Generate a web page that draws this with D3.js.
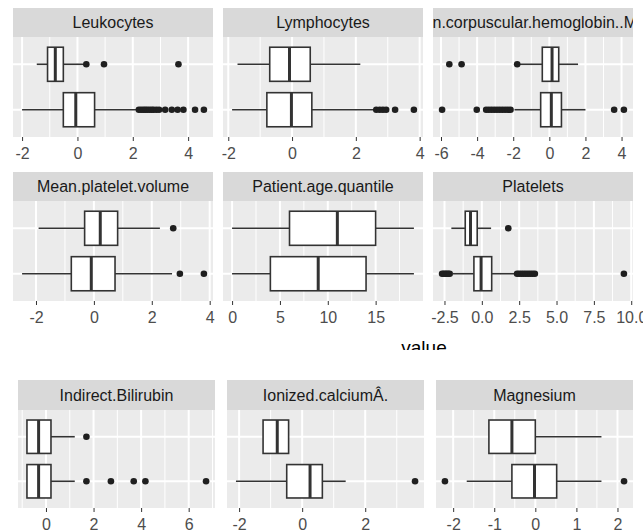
<!DOCTYPE html>
<html>
<head>
<meta charset="utf-8">
<script src="https://cdn.jsdelivr.net/npm/d3@7"></script>
<style>
  html, body { margin: 0; padding: 0; background: #ffffff; }
  svg { display: block; font-family: "Liberation Sans", Arial, sans-serif; }
</style>
</head>
<body>
<svg id="chart" width="643" height="532"></svg>
<script>
// Two groups per facet, drawn top to bottom
const groups = ["groupA", "groupB"];

// Box statistics: [lower whisker, Q1, median, Q3, upper whisker]
const leukocytesA = [-1.47, -1.08, -0.80, -0.51, 0.20];
const leukocytesAOut = [0.32, 0.96, 3.65];
const leukocytesB = [-2.00, -0.51, -0.06, 0.62, 2.15];
const leukocytesBOut = [2.22, 2.30, 2.38, 2.45, 2.52, 2.60, 2.68, 2.75, 2.85, 2.95, 3.17, 3.41, 3.62, 3.83, 4.25, 4.57];

const lymphocytesA = [-1.71, -0.70, -0.08, 0.57, 2.14];
const lymphocytesAOut = [];
const lymphocytesB = [-1.88, -0.79, -0.02, 0.62, 2.59];
const lymphocytesBOut = [2.64, 2.75, 2.85, 2.95, 3.23, 3.82];

const mchA = [-1.65, -0.39, 0.15, 0.52, 1.59];
const mchAOut = [-5.54, -4.86, -1.78];
const mchB = [-1.93, -0.48, 0.11, 0.67, 2.00];
const mchBOut = [-5.94, -4.02, -3.50, -3.35, -3.20, -3.05, -2.90, -2.75, -2.60, -2.45, -2.30, -2.15, 3.59, 4.13];

const mpvA = [-1.91, -0.32, 0.22, 0.82, 2.28];
const mpvAOut = [2.74];
const mpvB = [-2.48, -0.78, -0.09, 0.73, 2.70];
const mpvBOut = [2.97, 3.80];

const ageA = [0, 6, 11, 15, 19];
const ageAOut = [];
const ageB = [0, 4, 9, 14, 19];
const ageBOut = [];

const plateletsA = [-2.04, -1.11, -0.76, -0.31, 0.62];
const plateletsAOut = [1.77];
const plateletsB = [-1.93, -0.53, -0.05, 0.66, 2.30];
const plateletsBOut = [-2.66, -2.55, -2.45, -2.35, -2.25, -2.15, 2.36, 2.50, 2.65, 2.80, 2.95, 3.10, 3.25, 3.40, 3.55, 9.51];

const bilirubinA = [-0.80, -0.80, -0.31, 0.21, 1.21];
const bilirubinAOut = [1.70];
const bilirubinB = [-0.80, -0.80, -0.31, 0.21, 1.21];
const bilirubinBOut = [1.70, 2.73, 3.69, 4.18, 6.73];

const calciumA = [-1.24, -1.24, -0.79, -0.43, -0.43];
const calciumAOut = [];
const calciumB = [-2.10, -0.49, 0.25, 0.64, 1.38];
const calciumBOut = [3.58];

const magnesiumA = [-1.13, -1.13, -0.57, 0.00, 1.61];
const magnesiumAOut = [];
const magnesiumB = [-1.67, -0.57, -0.02, 0.52, 1.61];
const magnesiumBOut = [-2.20, 2.16];

// Facet titles and tick values
const topTitles = ["Leukocytes", "Lymphocytes", "Mean.corpuscular.hemoglobin..MCH.",
                   "Mean.platelet.volume", "Patient.age.quantile", "Platelets"];
const bottomTitles = ["Indirect.Bilirubin", "Ionized.calciumÂ.", "Magnesium"];

const leukocytesTicks = [-2, 0, 2, 4];
const lymphocytesTicks = [-2, 0, 2, 4];
const mchTicks = [-6, -4, -2, 0, 2, 4];
const mpvTicks = [-2, 0, 2, 4];
const ageTicks = [0, 5, 10, 15];
const plateletsTicks = [-2.5, 0.0, 2.5, 5.0, 7.5, 10.0];
const plateletsTickLabels = ["-2.5", "0.0", "2.5", "5.0", "7.5", "10.0"];
const bilirubinTicks = [0, 2, 4, 6];
const calciumTicks = [-2, 0, 2];
const magnesiumTicks = [-2, -1, 0, 1, 2];

const xTitle = "value";

// Assemble facet descriptions from the arrays above
const topFacets = [
  { title: topTitles[0], stats: [leukocytesA, leukocytesB], out: [leukocytesAOut, leukocytesBOut], ticks: leukocytesTicks },
  { title: topTitles[1], stats: [lymphocytesA, lymphocytesB], out: [lymphocytesAOut, lymphocytesBOut], ticks: lymphocytesTicks },
  { title: topTitles[2], stats: [mchA, mchB], out: [mchAOut, mchBOut], ticks: mchTicks },
  { title: topTitles[3], stats: [mpvA, mpvB], out: [mpvAOut, mpvBOut], ticks: mpvTicks },
  { title: topTitles[4], stats: [ageA, ageB], out: [ageAOut, ageBOut], ticks: ageTicks },
  { title: topTitles[5], stats: [plateletsA, plateletsB], out: [plateletsAOut, plateletsBOut], ticks: plateletsTicks, labels: plateletsTickLabels }
];
const bottomFacets = [
  { title: bottomTitles[0], stats: [bilirubinA, bilirubinB], out: [bilirubinAOut, bilirubinBOut], ticks: bilirubinTicks },
  { title: bottomTitles[1], stats: [calciumA, calciumB], out: [calciumAOut, calciumBOut], ticks: calciumTicks },
  { title: bottomTitles[2], stats: [magnesiumA, magnesiumB], out: [magnesiumAOut, magnesiumBOut], ticks: magnesiumTicks }
];

// Styling
const panelBg = "#EBEBEB";
const stripBg = "#D9D9D9";
const stripText = "#1A1A1A";
const tickText = "#4D4D4D";
const boxLine = "#333333";
const pointFill = "#1F1F1F";
const fontSize = 16;

const svg = d3.select("#chart");
const defs = svg.append("defs");
let clipId = 0;

function drawFacet(root, f, left, width, stripTop, stripH, panelH) {
  const panelTop = stripTop + stripH;
  const panelBottom = panelTop + panelH;

  // Data range with 5% expansion on each side
  const all = f.stats.flat().concat(f.out.flat());
  const lo = d3.min(all), hi = d3.max(all);
  const pad = (hi - lo) * 0.05;
  const x = d3.scaleLinear().domain([lo - pad, hi + pad]).range([left, left + width]);
  const y = d3.scalePoint().domain(groups).range([panelTop, panelBottom]).padding(0.6);
  const boxH = y.step() * 0.75;

  const g = root.append("g");

  // Strip (long titles are clipped to the strip)
  const cid = "clip" + (clipId++);
  defs.append("clipPath").attr("id", cid)
    .append("rect").attr("x", left).attr("y", stripTop).attr("width", width).attr("height", stripH);
  g.append("rect").attr("x", left).attr("y", stripTop).attr("width", width).attr("height", stripH)
    .attr("fill", stripBg);
  g.append("text").attr("clip-path", `url(#${cid})`)
    .attr("x", left + width / 2).attr("y", stripTop + stripH * 0.5 + fontSize * 0.36)
    .attr("text-anchor", "middle").attr("font-size", fontSize).attr("fill", stripText)
    .text(f.title);

  // Panel background
  g.append("rect").attr("x", left).attr("y", panelTop).attr("width", width).attr("height", panelH)
    .attr("fill", panelBg);

  // Minor grid (midpoints between major ticks, extended one step past each end)
  const step = f.ticks[1] - f.ticks[0];
  const minor = [];
  for (let i = -1; i < f.ticks.length; i++) {
    const v = f.ticks[0] + step * (i + 0.5);
    if (v > x.domain()[0] && v < x.domain()[1]) minor.push(v);
  }
  g.selectAll(".minor").data(minor).join("line")
    .attr("x1", d => x(d)).attr("x2", d => x(d))
    .attr("y1", panelTop).attr("y2", panelBottom)
    .attr("stroke", "#ffffff").attr("stroke-width", 1);

  // Major grid
  const majors = f.ticks.filter(v => v >= x.domain()[0] && v <= x.domain()[1]);
  g.selectAll(".major").data(majors).join("line")
    .attr("x1", d => x(d)).attr("x2", d => x(d))
    .attr("y1", panelTop).attr("y2", panelBottom)
    .attr("stroke", "#ffffff").attr("stroke-width", 2);
  g.selectAll(".hmajor").data(groups).join("line")
    .attr("x1", left).attr("x2", left + width)
    .attr("y1", d => y(d)).attr("y2", d => y(d))
    .attr("stroke", "#ffffff").attr("stroke-width", 2);

  // Boxes, whiskers, medians and outliers
  groups.forEach((grp, i) => {
    const s = f.stats[i];
    const cy = y(grp);
    const bg = g.append("g");
    bg.append("line").attr("x1", x(s[0])).attr("x2", x(s[1])).attr("y1", cy).attr("y2", cy)
      .attr("stroke", boxLine).attr("stroke-width", 1.6);
    bg.append("line").attr("x1", x(s[3])).attr("x2", x(s[4])).attr("y1", cy).attr("y2", cy)
      .attr("stroke", boxLine).attr("stroke-width", 1.6);
    bg.append("rect").attr("x", x(s[1])).attr("y", cy - boxH / 2)
      .attr("width", x(s[3]) - x(s[1])).attr("height", boxH)
      .attr("fill", "#ffffff").attr("stroke", boxLine).attr("stroke-width", 1.6);
    bg.append("line").attr("x1", x(s[2])).attr("x2", x(s[2]))
      .attr("y1", cy - boxH / 2).attr("y2", cy + boxH / 2)
      .attr("stroke", boxLine).attr("stroke-width", 3);
    bg.selectAll("circle").data(f.out[i]).join("circle")
      .attr("cx", d => x(d)).attr("cy", cy).attr("r", 3.3)
      .attr("fill", pointFill);
  });

  // Bottom axis
  const axis = d3.axisBottom(x).tickValues(majors).tickSize(4).tickPadding(7)
    .tickFormat(d => f.labels ? f.labels[f.ticks.indexOf(d)] : d3.format("")(d).replace("−", "-"));
  const ax = g.append("g").attr("transform", `translate(0,${panelBottom})`).call(axis);
  ax.select(".domain").remove();
  ax.selectAll(".tick line").attr("stroke", boxLine).attr("stroke-width", 1);
  ax.selectAll(".tick text").attr("fill", tickText).attr("font-size", fontSize)
    .attr("font-family", "Liberation Sans, Arial, sans-serif");
  return g;
}

// Upper figure: 2 x 3 facets, cropped through its axis title
const topClip = "topclip";
defs.append("clipPath").attr("id", topClip)
  .append("rect").attr("x", 0).attr("y", 0).attr("width", 643).attr("height", 350);
const topRoot = svg.append("g").attr("clip-path", `url(#${topClip})`);
const topLefts = [13, 223, 433];
const topStrips = [8, 172];
topFacets.forEach((f, i) => {
  drawFacet(topRoot, f, topLefts[i % 3], 200, topStrips[Math.floor(i / 3)], 29, 100);
});
topRoot.append("text").attr("x", 424).attr("y", 354)
  .attr("text-anchor", "middle").attr("font-size", 19).attr("fill", "#000000")
  .text(xTitle);

// Lower figure: 1 x 3 facets
const bottomRoot = svg.append("g");
const bottomLefts = [18, 227, 436];
bottomFacets.forEach((f, i) => {
  drawFacet(bottomRoot, f, bottomLefts[i], 197, 380, 30, 98);
});
</script>
</body>
</html>
